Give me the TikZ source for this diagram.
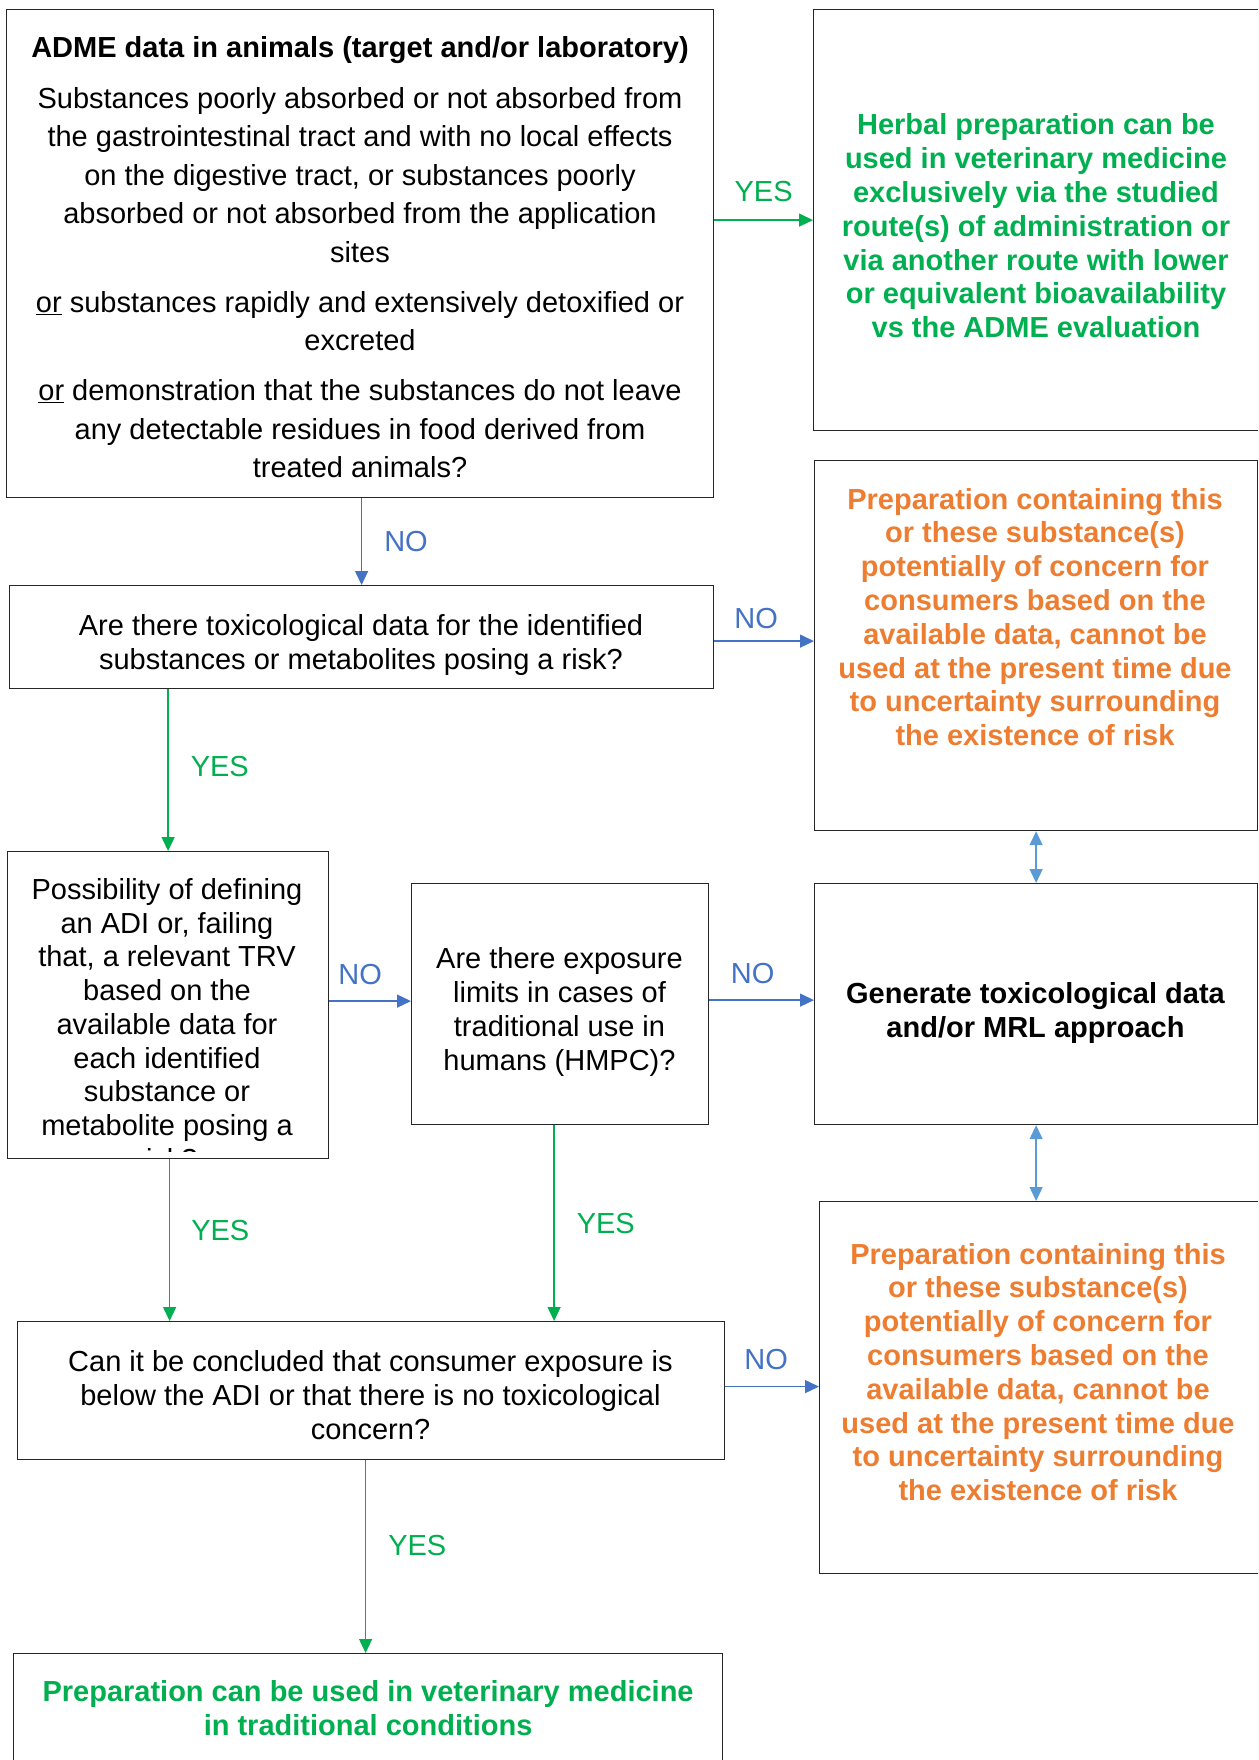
\documentclass[tikz,border=0pt]{standalone}
\usepackage{fontspec}
\setmainfont{Liberation Sans}
\usetikzlibrary{arrows.meta}

\definecolor{yesgreen}{RGB}{0,176,80}
\definecolor{riskorange}{RGB}{237,125,49}
\definecolor{noblue}{RGB}{68,114,196}
\definecolor{linkblue}{RGB}{91,155,213}

\tikzset{
  box/.style={draw=black!85, line width=1.2pt, inner sep=0pt, anchor=north west},
  boxtext/.style={align=center, inner sep=0pt, font=\fontsize{29}{34}\selectfont},
  risktext/.style={text=riskorange, align=center, inner sep=0pt,
    font=\fontsize{29}{33.8}\selectfont\bfseries},
  yesarrow/.style={draw=yesgreen, line width=1.3pt, -{Triangle[length=14pt,width=13pt]}},
  noarrow/.style={draw=noblue, line width=1.3pt, -{Triangle[length=14pt,width=13pt]}},
  twoway/.style={draw=linkblue, line width=1.3pt,
    {Triangle[length=14pt,width=13pt]}-{Triangle[length=14pt,width=13pt]}},
  yeslabel/.style={text=yesgreen, inner sep=0pt, font=\fontsize{29}{34}\selectfont},
  nolabel/.style={text=noblue, inner sep=0pt, font=\fontsize{29}{34}\selectfont}
}

\begin{document}
\begin{tikzpicture}[x=1pt, y=-1pt]

  \clip (0,0) rectangle (1258,1760);
  \fill[white] (0,0) rectangle (1258,1760);

  % boxes
  \node[box, minimum width=707pt, minimum height=488pt] (adme) at (6,9) {};
  \node[boxtext, font=\fontsize{29}{38.5}\selectfont] (admetxt) at (360,257) {%
    \textbf{ADME data in animals (target and/or laboratory)}\\[12.5pt]
    Substances poorly absorbed or not absorbed from\\
    the gastrointestinal tract and with no local effects\\
    on the digestive tract, or substances poorly\\
    absorbed or not absorbed from the application\\
    sites\\[11.5pt]
    \underline{or} substances rapidly and extensively detoxified or\\
    excreted\\[11.5pt]
    \underline{or} demonstration that the substances do not leave\\
    any detectable residues in food derived from\\
    treated animals?};

  \node[box, minimum width=447pt, minimum height=421pt] (herbal) at (813,9) {};
  \node[boxtext, text=yesgreen, font=\fontsize{29}{33.8}\selectfont\bfseries]
    (herbaltxt) at (1036,226) {%
    Herbal preparation can be\\
    used in veterinary medicine\\
    exclusively via the studied\\
    route(s) of administration or\\
    via another route with lower\\
    or equivalent bioavailability\\
    vs the ADME evaluation};

  \node[box, minimum width=704pt, minimum height=103pt] (toxq) at (9,585) {};
  \node[boxtext] (toxqtxt) at (361,645) {%
    Are there toxicological data for the identified\\
    substances or metabolites posing a risk?};

  \node[box, minimum width=443pt, minimum height=370pt] (risk1) at (814,460) {};
  \node[risktext] (risk1txt) at (1035,617) {%
    Preparation containing this\\
    or these substance(s)\\
    potentially of concern for\\
    consumers based on the\\
    available data, cannot be\\
    used at the present time due\\
    to uncertainty surrounding\\
    the existence of risk};

  \node[box, minimum width=321pt, minimum height=307pt] (adi) at (7,851) {};
  \begin{scope}
    \clip (10,854) rectangle (325,1151);
    \node[boxtext, font=\fontsize{29}{33.7}\selectfont] (aditxt) at (167,1024) {%
      Possibility of defining\\
      an ADI or, failing\\
      that, a relevant TRV\\
      based on the\\
      available data for\\
      each identified\\
      substance or\\
      metabolite posing a\\
      risk?};
  \end{scope}

  \node[box, minimum width=297pt, minimum height=241pt] (hmpc) at (411,883) {};
  \node[boxtext] (hmpctxt) at (559.5,1012) {%
    Are there exposure\\
    limits in cases of\\
    traditional use in\\
    humans (HMPC)?};

  \node[box, minimum width=443pt, minimum height=241pt] (generate) at (814,883) {};
  \node[boxtext, font=\fontsize{29}{34}\selectfont\bfseries] (generatetxt)
    at (1035.5,1013) {%
    Generate toxicological data\\
    and/or MRL approach};

  \node[box, minimum width=441pt, minimum height=372pt] (risk2) at (819,1201) {};
  \node[risktext] (risk2txt) at (1038,1372) {%
    Preparation containing this\\
    or these substance(s)\\
    potentially of concern for\\
    consumers based on the\\
    available data, cannot be\\
    used at the present time due\\
    to uncertainty surrounding\\
    the existence of risk};

  \node[box, minimum width=707pt, minimum height=138pt] (concl) at (17,1321) {};
  \node[boxtext] (concltxt) at (370.5,1395.5) {%
    Can it be concluded that consumer exposure is\\
    below the ADI or that there is no toxicological\\
    concern?};

  \node[box, minimum width=709pt, minimum height=110pt] (final) at (13,1653) {};
  \node[boxtext, text=yesgreen, font=\fontsize{29}{34}\selectfont\bfseries]
    (finaltxt) at (final.center) {%
    Preparation can be used in veterinary medicine\\
    in traditional conditions};

  % connectors
  \draw[yesarrow] (adme.east |- herbal.west) -- (herbal.west)
    node[midway, above=18pt, yeslabel] {YES};
  \draw[noarrow] (toxq.north |- adme.south) -- (toxq.north)
    node[midway, right=22pt, nolabel] {NO};
  \draw[noarrow] ([yshift=-4pt]toxq.east) -- ([yshift=-4pt]toxq.east -| risk1.west)
    node[midway, above=12pt, xshift=-8pt, nolabel] {NO};
  \draw[yesarrow] (adi.north |- toxq.south) -- (adi.north)
    node[midway, right=22pt, yshift=4pt, yeslabel] {YES};
  \draw[noarrow] ([yshift=4pt]adi.east) -- ([yshift=4pt]adi.east -| hmpc.west)
    node[midway, above=16pt, xshift=-10pt, nolabel] {NO};
  \draw[noarrow] ([yshift=4pt]hmpc.east) -- ([yshift=4pt]generate.west)
    node[midway, above=16pt, xshift=-9pt, nolabel] {NO};
  \draw[twoway] (risk1.south) -- (risk1.south |- generate.north);
  \draw[twoway] (generate.south) -- (generate.south |- risk2.north);
  \draw[yesarrow] ([xshift=1.5pt]adi.south) -- ([xshift=1.5pt]adi.south |- concl.north)
    node[midway, right=21pt, yshift=10pt, yeslabel] {YES};
  \draw[yesarrow] ([xshift=-6pt]hmpc.south) -- ([xshift=-6pt]hmpc.south |- concl.north)
    node[midway, right=22pt, yeslabel] {YES};
  \draw[noarrow] ([yshift=4pt]concl.east) -- ([yshift=4pt]concl.east -| risk2.west)
    node[midway, above=16pt, xshift=-6pt, nolabel] {NO};
  \draw[yesarrow] ([xshift=-2.5pt]final.north |- concl.south) -- ([xshift=-2.5pt]final.north)
    node[midway, right=22pt, yshift=11pt, yeslabel] {YES};

\end{tikzpicture}
\end{document}
